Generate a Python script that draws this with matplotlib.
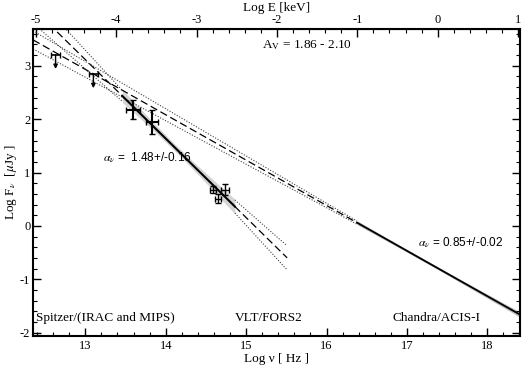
import numpy as np
import matplotlib
matplotlib.use('Agg')
import matplotlib.pyplot as plt
from matplotlib.ticker import MultipleLocator

plt.rcParams['font.family'] = ['Liberation Serif', 'DejaVu Serif']
plt.rcParams['mathtext.fontset'] = 'stix'
plt.rcParams['axes.unicode_minus'] = False

# Spitzer MIPS upper limits
ul_nu = [12.63, 13.10]
ul_f = [3.21, 2.85]
ul_xerr = [0.055, 0.055]

# Spitzer IRAC detections
irac_nu = [13.59, 13.83]
irac_f = [2.18, 1.95]
irac_xerr = [0.09, 0.07]
irac_yerr = [0.17, 0.22]

# VLT/FORS2 detections
vlt_nu = [14.59, 14.65, 14.74]
vlt_f = [0.68, 0.51, 0.68]
vlt_xerr = [0.04, 0.04, 0.05]
vlt_yerr = [0.06, 0.08, 0.10]

# power law fits: slope, error, pivot (log nu), log F at pivot
opt_alpha, opt_err, opt_piv, opt_norm = 1.48, 0.16, 14.10, 1.488
xr_alpha, xr_err, xr_piv, xr_norm = 0.85, 0.035, 17.20, -0.637

# ranges of the fits
opt_fit = (13.46, 14.86)
opt_ext = (12.35, 15.51)
xr_fit = (16.38, 18.45)
xr_ext = (12.35, 16.38)

def plaw(x, a, piv, norm):
    return norm - a*(x - piv)

fig = plt.figure(figsize=(5.25, 3.67), dpi=100)
ax = fig.add_axes([0.063, 0.085, 0.928, 0.836])

# optical/IR bowtie
xf = np.linspace(*opt_fit, 50)
hw = np.sqrt(0.065**2 + (opt_err*(xf - opt_piv))**2)
yc = plaw(xf, opt_alpha, opt_piv, opt_norm)
ax.fill_between(xf, yc - hw, yc + hw, color='0.83', lw=0, zorder=1)
ax.plot(xf, yc, color='k', lw=1.5, zorder=3)

# optical/IR extrapolation
for lo, hi in [(opt_ext[0], opt_fit[0]), (opt_fit[1], opt_ext[1])]:
    xe = np.linspace(lo, hi, 50)
    ax.plot(xe, plaw(xe, opt_alpha, opt_piv, opt_norm), color='k', lw=0.9,
            ls=(0, (6, 3)), zorder=2)
    for a in (opt_alpha - opt_err, opt_alpha + opt_err):
        ax.plot(xe, plaw(xe, a, opt_piv, opt_norm), color='0.25', lw=0.8,
                ls=(0, (1, 1.5)), zorder=2)

# X-ray bowtie
xf = np.linspace(*xr_fit, 50)
yc = plaw(xf, xr_alpha, xr_piv, xr_norm)
hw = np.sqrt(0.025**2 + (xr_err*(xf - xr_piv))**2)
ax.fill_between(xf, yc - hw, yc + hw, color='0.75', lw=0, zorder=1)
ax.plot(xf, yc, color='k', lw=1.3, zorder=3)

# X-ray extrapolation
xe = np.linspace(*xr_ext, 80)
ax.plot(xe, plaw(xe, xr_alpha, xr_piv, xr_norm), color='k', lw=0.9,
        ls=(0, (6, 3)), zorder=2)
for a in (xr_alpha - xr_err, xr_alpha + xr_err):
    ax.plot(xe, plaw(xe, a, xr_piv, xr_norm), color='0.25', lw=0.8,
            ls=(0, (1, 1.5)), zorder=2)

# data points
ax.errorbar(ul_nu, ul_f, xerr=ul_xerr, fmt='none', ecolor='k', elinewidth=1.2,
            capsize=2, zorder=4)
for x, y in zip(ul_nu, ul_f):
    ax.annotate('', xy=(x, y - 0.27), xytext=(x, y),
                arrowprops=dict(arrowstyle='-|>', color='k', lw=1.0,
                                mutation_scale=6, shrinkA=0, shrinkB=0), zorder=4)
ax.errorbar(irac_nu, irac_f, xerr=irac_xerr, yerr=irac_yerr, fmt='none',
            ecolor='k', elinewidth=1.5, capsize=2.5, zorder=4)
ax.errorbar(vlt_nu, vlt_f, xerr=vlt_xerr, yerr=vlt_yerr, fmt='none',
            ecolor='k', elinewidth=1.0, capsize=2, zorder=4)

# axes
ax.set_xlim(12.35, 18.41)
ax.set_ylim(-2.06, 3.69)
ax.xaxis.set_major_locator(MultipleLocator(1))
ax.xaxis.set_minor_locator(MultipleLocator(0.2))
ax.yaxis.set_major_locator(MultipleLocator(1))
ax.yaxis.set_minor_locator(MultipleLocator(0.2))
ax.tick_params(which='both', direction='in', right=True, labelsize=9)
ax.tick_params(which='major', length=6, width=1.0)
ax.tick_params(which='minor', length=3, width=0.8)
for s in ax.spines.values():
    s.set_linewidth(1.5)

sec = ax.secondary_xaxis('top', functions=(lambda x: x - 17.383, lambda e: e + 17.383))
sec.xaxis.set_major_locator(MultipleLocator(1))
sec.xaxis.set_minor_locator(MultipleLocator(0.2))
sec.tick_params(which='both', direction='in', labelsize=9, pad=2)
sec.tick_params(which='major', length=6, width=1.0)
sec.tick_params(which='minor', length=3, width=0.8)
sec.set_xlabel('Log E [keV]', fontsize=9.5, labelpad=2)

ax.set_xlabel('Log \u03bd [ Hz ]', fontsize=9.5, labelpad=1)
ax.set_ylabel(r'Log F$_\nu$  [$\mu$Jy ]', fontsize=9.5, labelpad=1)
ax.tick_params(axis='x', pad=3)
ax.tick_params(axis='y', pad=2)

# annotations
ax.text(15.20, 3.39, r'A$_\mathrm{V}$ = 1.86 - 2.10', fontsize=9.5, va='center')
ax.text(13.22, 1.28, r'$\alpha_\nu$ =  1.48+/-0.16', fontsize=8.5, va='center',
        family=['Liberation Sans', 'DejaVu Sans'])
ax.text(17.14, -0.31, r'$\alpha_\nu$ = 0.85+/-0.02', fontsize=8.5, va='center',
        family=['Liberation Sans', 'DejaVu Sans'])
ax.text(12.39, -1.72, 'Spitzer/(IRAC and MIPS)', fontsize=9.5, va='center')
ax.text(14.86, -1.72, 'VLT/FORS2', fontsize=9.5, va='center')
ax.text(16.82, -1.72, 'Chandra/ACIS-I', fontsize=9.5, va='center')

fig.savefig('out.png', dpi=100)
